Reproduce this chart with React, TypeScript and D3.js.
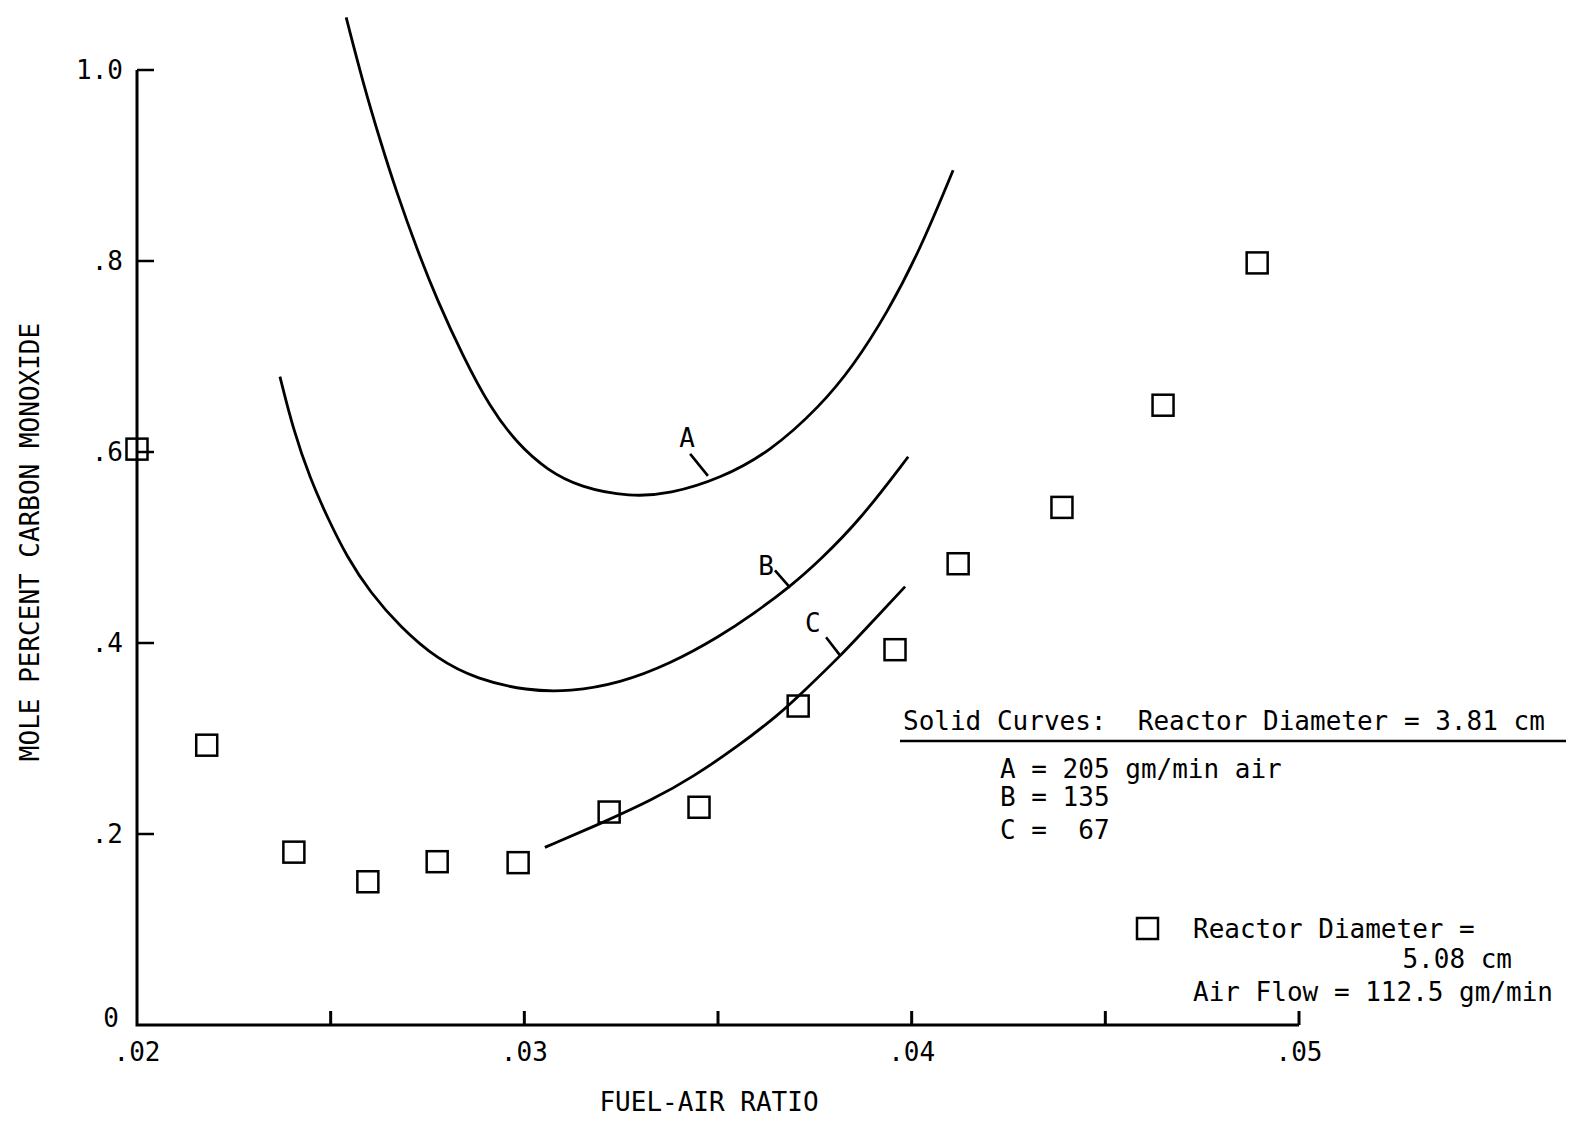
import React from "react";
import * as d3 from "d3";

// Axis ticks
const xTicks = [0.02, 0.025, 0.03, 0.035, 0.04, 0.045, 0.05];
const xTickLabels = [".02", "", ".03", "", ".04", "", ".05"];
const yTicks = [0.2, 0.4, 0.6, 0.8, 1.0];
const yTickLabels = [".2", ".4", ".6", ".8", "1.0"];

// Squares: reactor diameter 5.08 cm, air flow 112.5 gm/min
const squareX = [0.02, 0.0218, 0.02405, 0.02596, 0.02775, 0.02984, 0.03219, 0.03451, 0.03707, 0.03957, 0.0412, 0.04388, 0.04649, 0.04892];
const squareY = [0.603, 0.293, 0.181, 0.15, 0.171, 0.17, 0.223, 0.228, 0.334, 0.393, 0.483, 0.542, 0.649, 0.798];

// Solid curves: reactor diameter 3.81 cm
const curveAX = [0.0254, 0.02584, 0.02627, 0.02671, 0.02723, 0.02775, 0.02842, 0.02911, 0.02981, 0.03059, 0.03144, 0.03273, 0.03376, 0.03505, 0.03634, 0.03764, 0.03849, 0.03936, 0.04022, 0.04107];
const curveAY = [1.055, 0.986, 0.927, 0.871, 0.812, 0.759, 0.7, 0.647, 0.609, 0.581, 0.563, 0.553, 0.556, 0.572, 0.6, 0.648, 0.69, 0.745, 0.812, 0.895];

const curveBX = [0.02369, 0.02403, 0.02447, 0.02491, 0.02542, 0.02602, 0.02679, 0.02775, 0.02878, 0.03007, 0.03118, 0.03247, 0.03376, 0.03505, 0.0359, 0.03686, 0.03764, 0.03867, 0.03991];
const curveBY = [0.679, 0.624, 0.572, 0.532, 0.49, 0.453, 0.417, 0.383, 0.362, 0.35, 0.349, 0.358, 0.378, 0.407, 0.43, 0.459, 0.487, 0.529, 0.595];

const curveCX = [0.03053, 0.03203, 0.03332, 0.03436, 0.03549, 0.0366, 0.0372, 0.03815, 0.039, 0.03983];
const curveCY = [0.186, 0.212, 0.236, 0.26, 0.291, 0.326, 0.349, 0.386, 0.423, 0.459];

// Curve letters with leader lines (data coordinates)
const curveNames = ["A", "B", "C"];
const labelAt = [[0.0342, 0.616], [0.03624, 0.482], [0.03745, 0.422]];
const leaderFrom = [[0.03428, 0.598], [0.03647, 0.476], [0.03779, 0.406]];
const leaderTo = [[0.03474, 0.575], [0.03686, 0.458], [0.03815, 0.387]];

const legendLines = ["A = 205 gm/min air", "B = 135", "C =  67"];

const W = 1571;
const H = 1123;
const FONT = "'DejaVu Sans Mono', 'Liberation Mono', monospace";
const pre = { whiteSpace: "pre" as const };

export default function App() {
  const x = d3.scaleLinear().domain([0.02, 0.05]).range([137, 1299]);
  const y = d3.scaleLinear().domain([0, 1]).range([1025, 70]);

  const line = d3
    .line<[number, number]>()
    .x((d) => x(d[0]))
    .y((d) => y(d[1]))
    .curve(d3.curveBasis);

  const curves = [
    d3.zip(curveAX, curveAY) as [number, number][],
    d3.zip(curveBX, curveBY) as [number, number][],
    d3.zip(curveCX, curveCY) as [number, number][],
  ];

  const sq = 21;

  return (
    <div style={{ position: "absolute", left: 0, top: 0 }}>
      <svg width={W} height={H} style={{ display: "block", background: "#fff" }} fontFamily={FONT}>
        {/* axes */}
        <path
          d={`M${x(0.02)},${y(1)} L${x(0.02)},${y(0)} L${x(0.05)},${y(0)}`}
          fill="none"
          stroke="#000"
          strokeWidth={3}
        />
        {xTicks.slice(1).map((t) => (
          <line key={t} x1={x(t)} x2={x(t)} y1={y(0)} y2={y(0) - 14} stroke="#000" strokeWidth={3} />
        ))}
        {yTicks.map((t) => (
          <line key={t} x1={x(0.02)} x2={x(0.02) + 17} y1={y(t)} y2={y(t)} stroke="#000" strokeWidth={2.5} />
        ))}
        {xTicks.map((t, i) =>
          xTickLabels[i] ? (
            <text key={t} x={x(t)} y={y(0) + 36} fontSize={26} textAnchor="middle">
              {xTickLabels[i]}
            </text>
          ) : null
        )}
        {yTicks.map((t, i) => (
          <text key={t} x={x(0.02) - 14} y={y(t) + 9} fontSize={26} textAnchor="end">
            {yTickLabels[i]}
          </text>
        ))}
        <text x={x(0.02) - 18} y={y(0) + 2} fontSize={26} textAnchor="end">0</text>

        {/* axis titles */}
        <text x={709} y={1111} fontSize={26} textAnchor="middle">FUEL-AIR RATIO</text>
        <text transform="translate(39,542) rotate(-90)" fontSize={26} textAnchor="middle">
          MOLE PERCENT CARBON MONOXIDE
        </text>

        {/* solid curves */}
        {curves.map((c, i) => (
          <path key={i} d={line(c) ?? ""} fill="none" stroke="#000" strokeWidth={2.8} />
        ))}
        {curveNames.map((n, i) => (
          <g key={n}>
            <text x={x(labelAt[i][0])} y={y(labelAt[i][1]) + 10} fontSize={26} textAnchor="middle">
              {n}
            </text>
            <line
              x1={x(leaderFrom[i][0])}
              y1={y(leaderFrom[i][1])}
              x2={x(leaderTo[i][0])}
              y2={y(leaderTo[i][1])}
              stroke="#000"
              strokeWidth={2.6}
            />
          </g>
        ))}

        {/* data squares */}
        {squareX.map((v, i) => (
          <rect
            key={i}
            x={x(v) - sq / 2}
            y={y(squareY[i]) - sq / 2}
            width={sq}
            height={sq}
            fill="none"
            stroke="#000"
            strokeWidth={2.5}
          />
        ))}

        {/* legend */}
        <text x={903} y={730} fontSize={26} style={pre}>
          {"Solid Curves:  Reactor Diameter = 3.81 cm"}
        </text>
        <line x1={900} x2={1566} y1={741} y2={741} stroke="#000" strokeWidth={2.5} />
        {legendLines.map((t, i) => (
          <text key={t} x={1000} y={778 + i * 28 + (i === 2 ? 5 : 0)} fontSize={26} style={pre}>
            {t}
          </text>
        ))}
        <rect x={1137} y={918} width={sq} height={sq} fill="none" stroke="#000" strokeWidth={2.5} />
        <text x={1193} y={938} fontSize={26} style={pre}>{"Reactor Diameter ="}</text>
        <text x={1512} y={968} fontSize={26} textAnchor="end">{"5.08 cm"}</text>
        <text x={1193} y={1001} fontSize={26} style={pre}>{"Air Flow = 112.5 gm/min"}</text>
      </svg>
    </div>
  );
}
